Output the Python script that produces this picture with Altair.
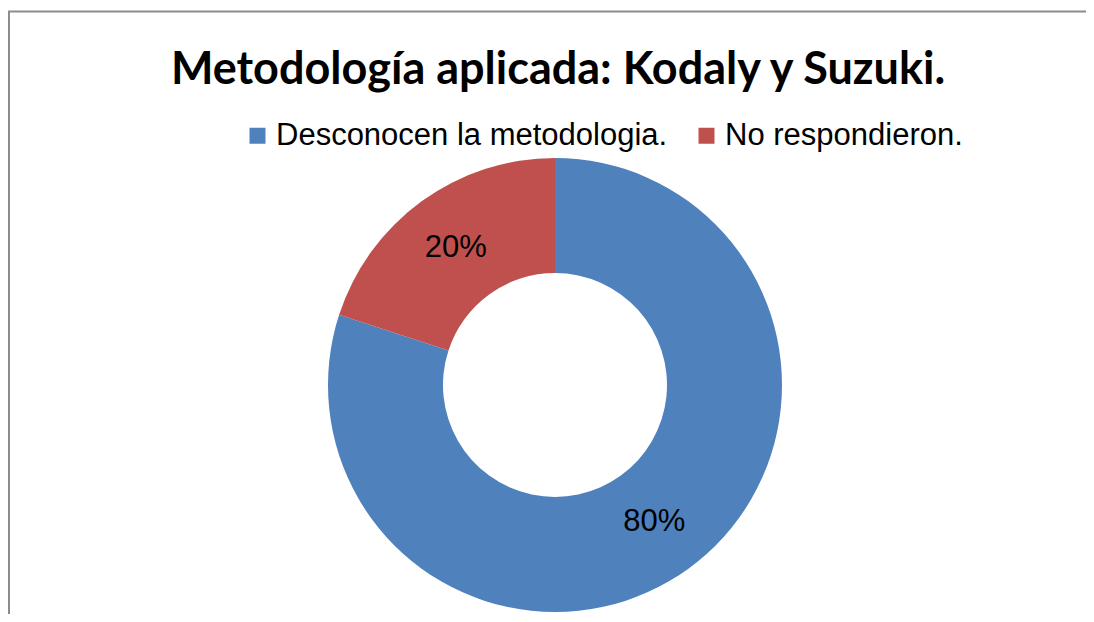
import altair as alt
import pandas as pd

categories = ["Desconocen la metodologia.", "No respondieron."]
values = [80, 20]
labels = ["80%", "20%"]
colors = ["#4F81BD", "#C0504D"]
title_text = "Metodología aplicada: Kodaly y Suzuki."

df = pd.DataFrame({"cat": categories, "val": values, "lab": labels, "order": [0, 1]})

W, H = 1078, 606
CX, CY = 547, 377

color = alt.Color(
    "cat:N",
    scale=alt.Scale(domain=categories, range=colors),
    sort=categories,
    legend=alt.Legend(
        title=None,
        orient="none",
        direction="horizontal",
        legendX=234,
        legendY=112,
        symbolType="square",
        symbolSize=256,
        symbolStrokeWidth=0,
        labelFont="Liberation Sans",
        labelFontSize=31,
        labelColor="#000000",
        labelLimit=0,
        labelOffset=3,
        columnPadding=23,
        padding=0,
    ),
)

base = alt.Chart(df).encode(
    theta=alt.Theta("val:Q", stack=True),
    order=alt.Order("order:Q"),
)

arc = base.mark_arc(outerRadius=227, innerRadius=112, stroke=None).encode(
    color=color,
    x=alt.value(CX),
    y=alt.value(CY),
)

txt = base.mark_text(radius=169, font="Liberation Sans", fontSize=31, color="#000000").encode(
    text="lab:N",
    x=alt.value(CX),
    y=alt.value(CY),
)

title_df = pd.DataFrame({"t": [title_text]})
title = alt.Chart(title_df).mark_text(
    font="Lato", fontWeight="bold", fontSize=45, color="#000000",
    align="center", baseline="alphabetic",
).encode(text="t:N", x=alt.value(550), y=alt.value(75.5))

border_df = pd.DataFrame({"k": [0]})
top_line = alt.Chart(border_df).mark_rule(color="#8c8c8c", strokeWidth=2).encode(
    x=alt.value(0), x2=alt.value(W), y=alt.value(3.5)
)
left_line = alt.Chart(border_df).mark_rule(color="#8c8c8c", strokeWidth=2).encode(
    x=alt.value(1), y=alt.value(3.5), y2=alt.value(H)
)

chart = alt.layer(top_line, left_line, arc, txt, title).properties(
    width=W, height=H,
    autosize=alt.AutoSizeParams(type="none"),
    padding=0,
).configure_view(stroke=None)

chart.save("out.html", embed_options={"renderer": "svg", "actions": False})
